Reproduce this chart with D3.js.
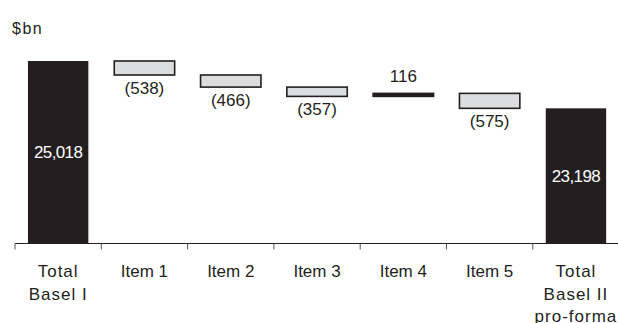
<!DOCTYPE html>
<html>
<head>
<meta charset="utf-8">
<script src="https://cdn.jsdelivr.net/npm/d3@7"></script>
<style>
  html, body { margin: 0; padding: 0; background: #fff; }
  svg { display: block; }
  text { font-family: Arial, "Liberation Sans", sans-serif; }
</style>
</head>
<body>
<svg id="chart" width="618" height="323"></svg>
<script>
// Waterfall: Basel I total to Basel II pro-forma total ($bn)
const categories = ["Total\nBasel I", "Item 1", "Item 2", "Item 3", "Item 4", "Item 5", "Total\nBasel II\npro-forma"];
const startTotal = 25018;
const changes = [-538, -466, -357, 116, -575];
const endTotal = 23198;
const unitLabel = "$bn";
const axisFloor = 18000;

// build steps
const steps = [];
steps.push({ cat: categories[0], lo: axisFloor, hi: startTotal, kind: "total", value: startTotal });
let running = startTotal;
changes.forEach((c, i) => {
  const from = running, to = running + c;
  steps.push({ cat: categories[i + 1], lo: Math.min(from, to), hi: Math.max(from, to), kind: "delta", value: c });
  running = to;
});
steps.push({ cat: categories[6], lo: axisFloor, hi: endTotal, kind: "total", value: endTotal });

const svg = d3.select("#chart");
const left = 15, bandW = 86.3;
const x = d3.scaleBand()
  .domain(categories)
  .range([left, left + bandW * categories.length])
  .paddingInner(0.3).paddingOuter(0.15);
const y = d3.scaleLinear().domain([axisFloor, startTotal]).range([243.5, 61]);

const fmt = d3.format(",");
const fmtDelta = v => v < 0 ? "(" + fmt(-v) + ")" : fmt(v);
const ink = "#231f20";

// unit label
svg.append("text").attr("x", 12).attr("y", 34)
  .attr("font-size", 16).attr("letter-spacing", 1.5).attr("fill", ink)
  .text(unitLabel);

// bars: totals solid dark, decreases light grey with outline, increases dark
svg.selectAll("rect.bar").data(steps).enter().append("rect")
  .attr("class", "bar")
  .attr("x", d => x(d.cat))
  .attr("width", x.bandwidth())
  .attr("y", d => y(d.hi))
  .attr("height", d => Math.max(y(d.lo) - y(d.hi), 1))
  .attr("fill", d => (d.kind === "total" || d.value > 0) ? ink : "#dcdddf")
  .attr("stroke", d => d.kind === "total" ? "none" : ink)
  .attr("stroke-width", 1.6);

// value labels
svg.selectAll("text.val").data(steps).enter().append("text")
  .attr("class", "val")
  .attr("text-anchor", "middle")
  .attr("font-size", 17)
  .attr("letter-spacing", d => d.kind === "total" ? -0.6 : 0)
  .attr("fill", d => d.kind === "total" ? "#ffffff" : ink)
  .attr("x", d => x(d.cat) + x.bandwidth() / 2)
  .attr("y", d => {
    if (d.kind === "total") return y(d.hi) + (y(d.lo) - y(d.hi)) * 0.5 + 6;
    if (d.value < 0) return y(d.lo) + 19;
    return y(d.hi) - 11;
  })
  .text(d => d.kind === "total" ? fmt(d.value) : fmtDelta(d.value));

// x axis
const axisG = svg.append("g").attr("transform", "translate(0,243.5)");
axisG.append("line").attr("x1", left).attr("x2", 618).attr("y1", 0).attr("y2", 0)
  .attr("stroke", ink).attr("stroke-width", 1.2);
const tickPos = d3.range(categories.length + 1).map(i => left + i * bandW);
axisG.selectAll("line.tick").data(tickPos).enter().append("line")
  .attr("class", "tick")
  .attr("x1", d => d).attr("x2", d => d).attr("y1", 0).attr("y2", 6)
  .attr("stroke", "#555").attr("stroke-width", 1);

// category labels
svg.selectAll("text.cat").data(categories).enter().append("text")
  .attr("class", "cat")
  .attr("text-anchor", "middle")
  .attr("font-size", 17)
  .attr("fill", ink)
  .attr("letter-spacing", d => d.startsWith("Total") ? 1 : 0)
  .each(function (d) {
    const t = d3.select(this);
    const cx = x(d) + x.bandwidth() / 2;
    d.split("\n").forEach((line, i) => {
      t.append("tspan").attr("x", cx).attr("y", 277 + i * 22.5).text(line);
    });
  });
</script>
</body>
</html>
